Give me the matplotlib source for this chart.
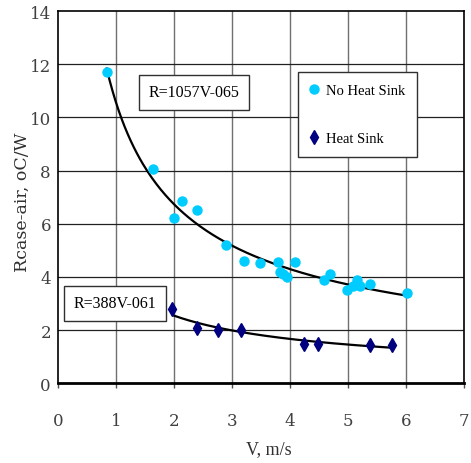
import numpy as np
import matplotlib
matplotlib.use("Agg")
import matplotlib.pyplot as plt

# No Heat Sink (cyan dots)
v_nhs = [0.84, 1.64, 2.00, 2.14, 2.40, 2.90, 3.20, 3.49, 3.80, 3.83, 3.88, 3.95,
         4.09, 4.59, 4.69, 4.99, 5.09, 5.16, 5.20, 5.38, 6.01]
r_nhs = [11.7, 8.05, 6.2, 6.84, 6.5, 5.2, 4.6, 4.53, 4.55, 4.2, 4.12, 4.0,
         4.56, 3.88, 4.12, 3.51, 3.66, 3.88, 3.66, 3.74, 3.38]

# Heat Sink (navy diamonds)
v_hs = [1.97, 2.40, 2.76, 3.15, 4.24, 4.49, 5.38, 5.76]
r_hs = [2.8, 2.07, 2.0, 2.0, 1.49, 1.49, 1.43, 1.42]

# power-law fits R = a * V^b
fit_nhs = (10.57, -0.65)
fit_hs = (3.88, -0.61)

serif = ['DejaVu Serif']
cond = ['Liberation Serif']

fig = plt.figure(figsize=(4.71, 4.64), dpi=100)
ax = fig.add_axes([0.123, 0.172, 0.862, 0.802])

ax.set_xlim(0, 7)
ax.set_ylim(0, 14)
ax.set_xticks(range(0, 8))
ax.set_yticks(range(0, 15, 2))
for x in range(1, 7):
    ax.axvline(x, color='#707070', lw=1.0, zorder=1)
for y in range(2, 14, 2):
    ax.axhline(y, color='#202020', lw=0.9, zorder=1)

x1 = np.linspace(min(v_nhs), max(v_nhs), 200)
ax.plot(x1, fit_nhs[0] * x1 ** fit_nhs[1], color='black', lw=1.6, zorder=3)
x2 = np.linspace(2.0, max(v_hs), 200)
ax.plot(x2, fit_hs[0] * x2 ** fit_hs[1], color='black', lw=1.6, zorder=3)

ax.plot(v_nhs, r_nhs, 'o', ms=6.5, color='#00CCFF', mec='#00CCFF', ls='none',
        label='No Heat Sink', zorder=4)
ax.plot(v_hs, r_hs, 'd', ms=7.5, color='#000080', mec='#000080', ls='none',
        label='Heat Sink', zorder=4)

for side in ['top', 'right', 'left']:
    ax.spines[side].set_linewidth(1.2)
    ax.spines[side].set_color('black')
ax.spines['bottom'].set_linewidth(2.0)

ax.tick_params(axis='x', direction='out', length=3.6, width=1, pad=17,
               colors='#505050', labelcolor='#404040', labelsize=12)
ax.tick_params(axis='y', direction='out', length=0, pad=5,
               labelcolor='#404040', labelsize=12)
for lab in ax.get_xticklabels() + ax.get_yticklabels():
    lab.set_family(serif)

ax.set_xlabel('V, m/s', family=cond, fontsize=13, color='#303030')
ax.xaxis.set_label_coords(0.52, -0.177)
ax.xaxis.label.set_va('center')
ax.set_ylabel('Rcase-air, oC/W', family=serif, fontsize=12.5, color='#303030')
ax.yaxis.set_label_coords(-0.088, 0.49)
ax.yaxis.label.set_va('center')

box = dict(boxstyle='square,pad=0.6', fc='white', ec='#303030', lw=1.0)
ax.text(2.34, 10.95, 'R=1057V-065', family=cond, fontsize=11.5, ha='center',
        va='center', bbox=box, zorder=5)
ax.text(0.99, 3.01, 'R=388V-061', family=cond, fontsize=11.5, ha='center',
        va='center', bbox=box, zorder=5)

leg = ax.legend(loc='upper left', bbox_to_anchor=(0.591, 0.836), borderaxespad=0,
                prop={'family': cond, 'size': 10.5}, fancybox=False, framealpha=1,
                edgecolor='#303030', labelspacing=2.4, handlelength=0.6,
                handletextpad=0.5, borderpad=0.8)
leg.get_frame().set_linewidth(1.0)
leg.set_zorder(6)

plt.savefig('out.png', dpi=100)
